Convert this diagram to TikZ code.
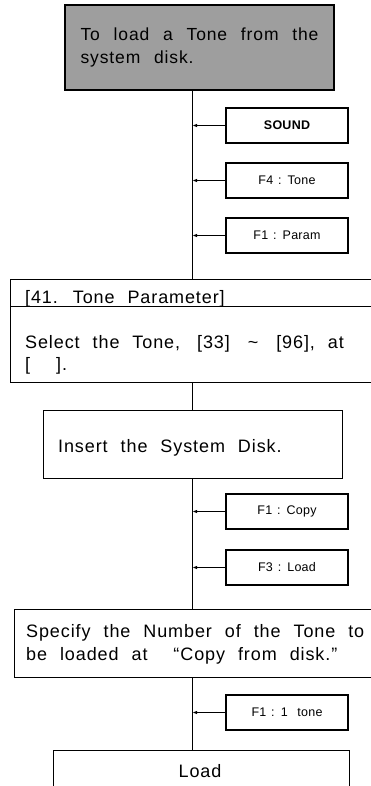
\documentclass[tikz,border=0pt]{standalone}
\usepackage{fontspec}
\setmainfont{Liberation Sans}[WordSpace=2.2, LetterSpace=5]
\newfontfamily\titlefont{Liberation Sans}[WordSpace=2.4, LetterSpace=5]
\newfontfamily\keyfont{Liberation Sans}[WordSpace=1.3, LetterSpace=2]
\usetikzlibrary{arrows.meta}
\begin{document}
\begin{tikzpicture}[x=1pt,y=-1pt,
  box/.style={draw, line width=0.9pt, inner sep=0pt},
  keybox/.style={draw, line width=1.1pt, minimum width=122pt, minimum height=35pt, inner sep=0pt, font=\keyfont\fontsize{12.5}{14}\selectfont},
  conn/.style={line width=1pt, -{Latex[length=5pt,width=3.4pt]}},
  trunk/.style={line width=1pt},
  txt/.style={font=\fontsize{18}{23}\selectfont, inner sep=0pt}]
\useasboundingbox (0,0) rectangle (371,786);
\clip (0,0) rectangle (371,786);
\coordinate (tx) at (192,0);
% title
\node[draw, line width=2.6pt, fill=black!38, minimum width=269pt, minimum height=85pt, inner sep=0pt, align=left, font=\titlefont\fontsize{17.5}{23}\selectfont] (title) at (199.5,47.5) {To load a Tone from the\\system disk.};
% key boxes
\node[keybox, font=\keyfont\bfseries\fontsize{12.5}{14}\selectfont] (sound) at (287,125.5) {SOUND};
\node[keybox] (ftone) at (287,180.5) {F4 : Tone};
\node[keybox] (fparam) at (287,235.5) {F1 : Param};
% tone parameter
\node[box, minimum width=380pt, minimum height=27pt] (tph) at (200,292.5) {};
\node[box, minimum width=380pt, minimum height=76pt] (tpb) at (200,344) {};
\node[txt, anchor=base west] (tpht) at (25,303) {[41. Tone Parameter]};
\node[txt, anchor=base west] (tpb1) at (25,348) {Select the Tone,\hspace{4pt} [33]\hspace{5pt} \textasciitilde\hspace{5pt}\ [96], at};
\node[txt, anchor=base west] (tpb2) at (25,370) {[\ \ ].};
% insert
\node[box, minimum width=299pt, minimum height=68pt] (ins) at (192.5,444) {};
\node[txt, anchor=base west] (inst) at (58,452) {Insert the System Disk.};
\node[keybox] (fcopy) at (287,511.5) {F1 : Copy};
\node[keybox] (fload) at (287,567.5) {F3 : Load};
% specify
\node[box, minimum width=376pt, minimum height=68pt] (spec) at (202,643) {};
\node[txt, anchor=base west] (spec1) at (26,637) {Specify the Number of the Tone to};
\node[txt, anchor=base west] (spec2) at (26,660) {be loaded at \ ``Copy from disk.''};
\node[keybox] (fone) at (287,712.5) {F1 : 1\ \ tone};
% load
\node[box, minimum width=296pt, minimum height=60pt] (load) at (201,780) {};
\node[txt, anchor=base] (loadt) at (200,777) {Load};
% trunk
\draw[trunk] (title.south -| tx) -- (tph.north -| tx);
\draw[trunk] (tpb.south -| tx) -- (ins.north -| tx);
\draw[trunk] (ins.south -| tx) -- (spec.north -| tx);
\draw[trunk] (spec.south -| tx) -- (load.north -| tx);
% connectors
\foreach \k in {sound,ftone,fparam,fcopy,fload,fone}
  \draw[conn] (\k.west) -- (\k.west -| tx);
\end{tikzpicture}
\end{document}
